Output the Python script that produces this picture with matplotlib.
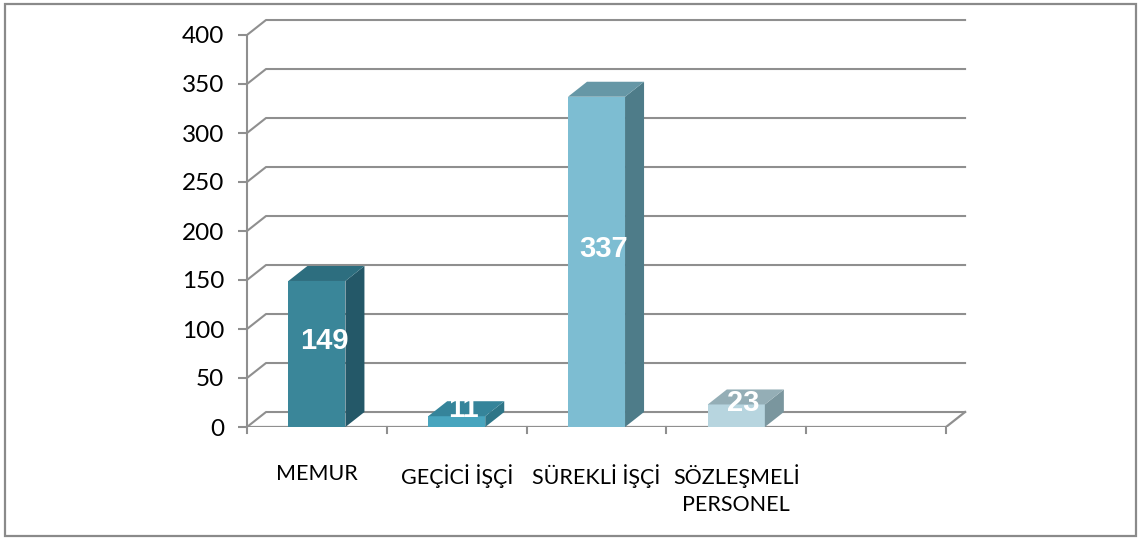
import matplotlib.pyplot as plt
from matplotlib.patches import Polygon, Rectangle

categories = ['MEMUR', 'GEÇİCİ İŞÇİ', 'SÜREKLİ İŞÇİ', 'SÖZLEŞMELİ\nPERSONEL']
values = [149, 11, 337, 23]
n_slots = 5

front_colors = ['#3A8699', '#48A5BE', '#7DBDD2', '#B7D5DF']
side_colors = ['#245868', '#2E7587', '#4E7C89', '#7A969E']
top_colors = ['#2D6E7F', '#35849A', '#6697A6', '#94AEB6']

grid_color = '#8F8F8F'
dx, dy = 0.136, 15.3      # depth offset of the 3d look
bw = 0.408                # bar front width

plt.rcParams['font.family'] = ['Lato', 'DejaVu Sans']

fig = plt.figure(figsize=(11.4, 5.4), dpi=100)
# outer border of the chart
fig.patches.append(Rectangle((5 / 1140, 4 / 540), 1131 / 1140, 532 / 540,
                             transform=fig.transFigure, fill=False,
                             edgecolor='#8A8A8A', lw=1.6))

ax = fig.add_axes([247 / 1140, 113 / 540, 727 / 1140, 411.6 / 540])
ax.set_xlim(0, 5.2)
ax.set_ylim(0, 420)

# back wall gridlines with the slanted side wall part
for v in range(0, 401, 50):
    ax.plot([0, dx, n_slots + dx], [v, v + dy, v + dy], color=grid_color, lw=1.5, zorder=1)
# floor front edge and right slant
ax.plot([0, n_slots, n_slots + dx], [0, 0, dy], color=grid_color, lw=1.6, zorder=1)
# category ticks
for i in range(n_slots + 1):
    ax.plot([i, i], [0, -6.5], color=grid_color, lw=1.5, clip_on=False, zorder=1)

for i, v in enumerate(values):
    c = i + 0.5
    x0, x1 = c - bw / 2, c + bw / 2
    ax.add_patch(Polygon([(x0, 0), (x1, 0), (x1, v), (x0, v)],
                         closed=True, facecolor=front_colors[i], edgecolor='none', zorder=3))
    ax.add_patch(Polygon([(x1, 0), (x1 + dx, dy), (x1 + dx, v + dy), (x1, v)],
                         closed=True, facecolor=side_colors[i], edgecolor='none', zorder=3))
    ax.add_patch(Polygon([(x0, v), (x1, v), (x1 + dx, v + dy), (x0 + dx, v + dy)],
                         closed=True, facecolor=top_colors[i], edgecolor='none', zorder=3))
    ax.text(c + 0.05, v / 2 + 13, str(v), ha='center', va='center', color='white',
            fontsize=21, fontweight='bold', family=['Liberation Sans', 'DejaVu Sans'], zorder=4)

ax.set_xticks([i + 0.5 for i in range(len(categories))])
ax.set_xticklabels(categories, fontsize=15.5, linespacing=1.4)
ax.tick_params(axis='x', length=0, pad=27)

ax.set_yticks(range(0, 401, 50))
ax.tick_params(axis='y', direction='out', length=6.5, width=1.5, color=grid_color,
               labelsize=17.5, pad=10)
for s in ['top', 'right', 'bottom']:
    ax.spines[s].set_visible(False)
ax.spines['left'].set_bounds(0, 400)
ax.spines['left'].set_color(grid_color)
ax.spines['left'].set_linewidth(1.5)
ax.patch.set_alpha(0)

fig.savefig('out.png', dpi=100)
